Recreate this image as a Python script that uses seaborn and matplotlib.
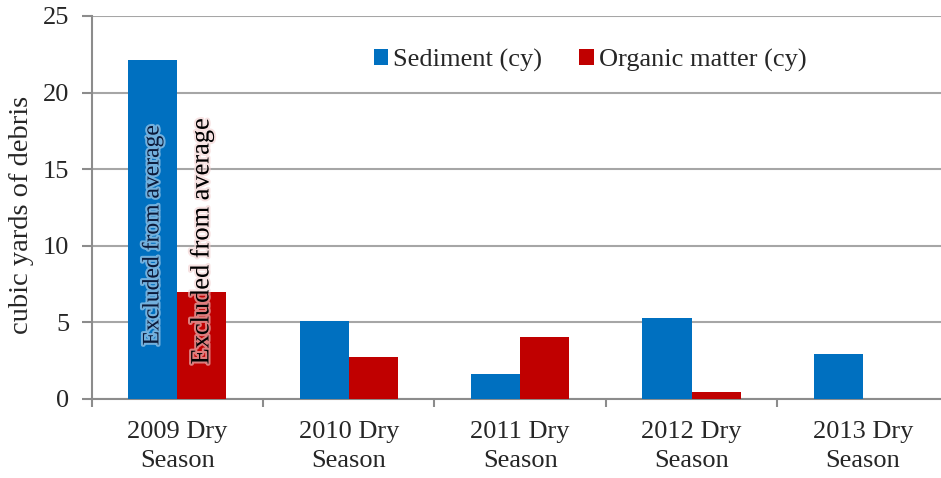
import matplotlib
matplotlib.use("Agg")
import matplotlib.pyplot as plt
import matplotlib.patheffects as pe
from matplotlib.ticker import FixedLocator
import seaborn as sns
import pandas as pd

seasons = ["2009 Dry\nSeason", "2010 Dry\nSeason", "2011 Dry\nSeason",
           "2012 Dry\nSeason", "2013 Dry\nSeason"]
sediment = [22.15, 5.1, 1.65, 5.3, 2.95]
organic = [7.0, 2.75, 4.05, 0.45, 0.0]
series = ["Sediment (cy)", "Organic matter (cy)"]
colors = ["#0070C0", "#C00000"]

sns.set_style("white")
plt.rcParams["font.family"] = ["Liberation Serif", "DejaVu Serif"]

df = pd.DataFrame({
    "season": seasons * 2,
    "value": sediment + organic,
    "kind": [series[0]] * len(seasons) + [series[1]] * len(seasons),
})

fig = plt.figure(figsize=(9.41, 4.78), dpi=100)
ax = fig.add_axes([0.0975, 0.1653, 0.9025, 0.8013])

bar_width = 0.572
sns.barplot(data=df, x="season", y="value", hue="kind", palette=colors,
            width=bar_width, saturation=1, linewidth=0, ax=ax, legend=True,
            zorder=3)

ax.set_ylim(0, 25)
ax.set_xlim(-0.5, 4.456)
ax.set_yticks([0, 5, 10, 15, 20, 25])
ax.yaxis.grid(True, color="#a6a6a6", linewidth=1.5, zorder=0)
ax.set_axisbelow(True)
for s in ["top", "right"]:
    ax.spines[s].set_visible(False)
for s in ["left", "bottom"]:
    ax.spines[s].set_color("#8c8c8c")
    ax.spines[s].set_linewidth(1.5)

ax.tick_params(axis="y", length=7, width=1.5, color="#8c8c8c", labelsize=19,
               pad=9, left=True)
ax.tick_params(axis="x", which="major", length=0, labelsize=19, pad=16)
ax.xaxis.set_minor_locator(FixedLocator([-0.5, 0.5, 1.5, 2.5, 3.5]))
ax.tick_params(axis="x", which="minor", length=6, width=1.5, color="#8c8c8c",
               bottom=True)
for lab in ax.get_xticklabels():
    lab.set_linespacing(1.4)

ax.set_xlabel("")
ax.set_ylabel("cubic yards of debris", fontsize=20.5)
ax.yaxis.set_label_coords(-0.068, 0.48)

# annotations on the 2009 bars
off = bar_width / 4
ax.text(-off, 10.7, "Excluded from average", rotation=90, ha="center",
        va="center", fontsize=17, color="#0a1a3a", zorder=5,
        path_effects=[pe.withStroke(linewidth=3, foreground="#bfdcf2", alpha=0.6)])
ax.text(off, 10.3, "Excluded from average", rotation=90, ha="center",
        va="center", fontsize=19, color="black", zorder=5,
        path_effects=[pe.withStroke(linewidth=3, foreground="#f2d0d0", alpha=0.6)])

ax.legend(loc="center", bbox_to_anchor=(0.587, 0.885), ncol=2, frameon=False,
          fontsize=19, handlelength=0.55, handleheight=0.55, handletextpad=0.2,
          columnspacing=1.4)

fig.savefig("out.png", dpi=100)
